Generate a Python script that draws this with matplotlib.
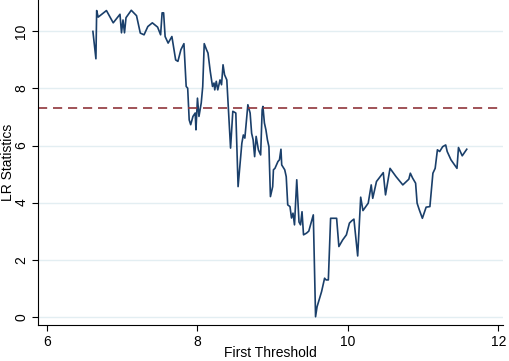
import matplotlib
matplotlib.use("Agg")
import matplotlib.pyplot as plt

# threshold values and LR statistic
threshold = [6.61, 6.65, 6.66, 6.68, 6.79, 6.88, 6.97, 6.99, 7.01, 7.03,
             7.05, 7.12, 7.19, 7.24, 7.29, 7.34, 7.40, 7.47, 7.51, 7.53,
             7.55, 7.57, 7.61, 7.66, 7.71, 7.74, 7.78, 7.82, 7.85, 7.87,
             7.89, 7.91, 7.94, 7.97, 7.98, 8.00, 8.02, 8.05, 8.07, 8.09,
             8.12, 8.14, 8.17, 8.20, 8.22, 8.23, 8.25, 8.27, 8.30, 8.32,
             8.34, 8.36, 8.39, 8.41, 8.44, 8.47, 8.51, 8.54, 8.59, 8.61,
             8.63, 8.67, 8.70, 8.72, 8.74, 8.76, 8.78, 8.81, 8.84, 8.86,
             8.87, 8.89, 8.91, 8.93, 8.95, 8.97, 9.00, 9.01, 9.03, 9.05,
             9.07, 9.09, 9.11, 9.12, 9.16, 9.18, 9.20, 9.23, 9.25, 9.27,
             9.29, 9.32, 9.35, 9.37, 9.39, 9.41, 9.45, 9.48, 9.54, 9.57,
             9.59, 9.65, 9.69, 9.71, 9.74, 9.77, 9.85, 9.88, 9.93, 9.98,
             10.02, 10.05, 10.08, 10.13, 10.17, 10.20, 10.27, 10.31, 10.33, 10.38,
             10.47, 10.50, 10.56, 10.64, 10.73, 10.81, 10.83, 10.86, 10.90, 10.92,
             10.95, 10.99, 11.04, 11.09, 11.13, 11.16, 11.19, 11.22, 11.26, 11.30,
             11.32, 11.37, 11.45, 11.47, 11.52, 11.58]
lr_stat = [10.00, 9.04, 10.73, 10.50, 10.73, 10.30, 10.60, 9.95, 10.40, 9.95,
           10.48, 10.74, 10.55, 9.94, 9.88, 10.17, 10.30, 10.15, 9.88, 10.65,
           10.65, 9.82, 9.59, 9.82, 9.00, 8.95, 9.36, 9.57, 8.07, 8.01,
           6.90, 6.73, 7.02, 7.14, 6.55, 7.66, 7.02, 7.49, 8.07, 9.57,
           9.36, 9.24, 8.60, 8.07, 8.19, 7.95, 8.25, 7.95, 8.30, 8.13,
           8.83, 8.48, 8.30, 7.37, 5.91, 7.20, 7.14, 4.56, 6.08, 6.37,
           6.26, 7.43, 7.14, 6.43, 6.20, 5.61, 6.32, 5.85, 5.67, 7.25,
           7.37, 6.79, 6.55, 6.20, 5.96, 4.21, 4.56, 5.15, 5.20, 5.32,
           5.44, 5.50, 5.87, 5.32, 5.15, 4.91, 3.92, 3.86, 3.46, 3.63,
           3.22, 4.80, 3.32, 3.22, 3.68, 2.87, 2.93, 3.00, 3.57, 0.00,
           0.35, 0.88, 1.35, 1.29, 1.29, 3.45, 3.45, 2.46, 2.69, 2.87,
           3.28, 3.36, 3.42, 2.13, 4.19, 3.72, 3.98, 4.62, 4.15, 4.74,
           5.05, 4.27, 5.20, 4.91, 4.62, 4.82, 5.03, 4.86, 4.68, 3.98,
           3.74, 3.45, 3.84, 3.86, 5.03, 5.20, 5.85, 5.79, 5.96, 6.02,
           5.79, 5.50, 5.20, 5.93, 5.64, 5.87]
critical_value = 7.33
x_ticks = [6, 8, 10, 12]
y_ticks = [0, 2, 4, 6, 8, 10]

plt.rcParams['font.family'] = ['Liberation Sans', 'DejaVu Sans']

fig = plt.figure(figsize=(5.10, 3.61), dpi=100)
ax = fig.add_axes([0.0745, 0.0997, 0.9115, 0.9003])

ax.plot(threshold, lr_stat, color='#1a3f6a', linewidth=1.2)
ax.axhline(critical_value, color='#90353b', linestyle=(0, (5.5, 3.5)), linewidth=1.2)

ax.set_xlim(5.88, 12.06)
ax.set_ylim(-0.29, 11.1)
ax.set_xticks(x_ticks)
ax.set_yticks(y_ticks)
ax.set_yticklabels([str(t) for t in y_ticks], rotation=90, va='center')
ax.grid(axis='y', color='#e3eef2', linewidth=1.0)
ax.set_axisbelow(True)
ax.tick_params(labelsize=10, length=4, width=0.8, direction='out', pad=3)

for side in ('top', 'right'):
    ax.spines[side].set_visible(False)
for side in ('left', 'bottom'):
    ax.spines[side].set_linewidth(0.8)

ax.set_xlabel("First Threshold", fontsize=10, labelpad=-2)
ax.set_ylabel("LR Statistics", fontsize=10)
ax.yaxis.set_label_coords(-0.0495, 0.5)

fig.savefig("out.png", dpi=100)
